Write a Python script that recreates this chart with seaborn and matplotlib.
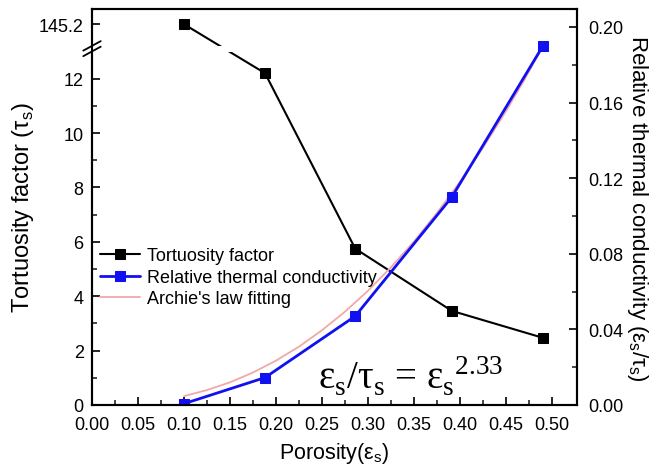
import numpy as np
import matplotlib
matplotlib.use("Agg")
import matplotlib.pyplot as plt
import seaborn as sns
from matplotlib.patches import Rectangle

sns.set_theme(style="white")
plt.rcParams['font.family'] = ['Liberation Sans', 'DejaVu Sans']
plt.rcParams['text.color'] = 'black'
plt.rcParams['axes.labelcolor'] = 'black'

# data
porosity = [0.100, 0.188, 0.286, 0.391, 0.490]
tortuosity = [145.2, 12.2, 5.75, 3.46, 2.47]
rel_cond = [0.0007, 0.0145, 0.047, 0.110, 0.190]

fit_x = [0.100, 0.125, 0.150, 0.175, 0.200, 0.225, 0.250, 0.275, 0.300,
         0.325, 0.350, 0.375, 0.400, 0.425, 0.450, 0.470, 0.490]
fit_y = [0.0047, 0.0079, 0.0120, 0.0172, 0.0235, 0.0309, 0.0396, 0.0494, 0.0605,
         0.0729, 0.0866, 0.1017, 0.1182, 0.1362, 0.1556, 0.1722, 0.1898]

# broken left axis: linear up to 13, then compressed
BRK = 13.0
K = 1.0 / (145.2 - BRK)


def fwd(y):
    y = np.asarray(y, dtype=float)
    return np.where(y <= BRK, y, BRK + (y - BRK) * K)


def inv(d):
    d = np.asarray(d, dtype=float)
    return np.where(d <= BRK, d, BRK + (d - BRK) / K)


fig = plt.figure(figsize=(6.58, 4.77), dpi=100)
ax = fig.add_subplot(111)
fig.subplots_adjust(left=92/658, right=577/658, bottom=1-406/477, top=1-10/477)
ax2 = ax.twinx()

sns.lineplot(x=porosity, y=tortuosity, ax=ax, color='black', marker='s',
             markersize=6.5, markeredgecolor='black', linewidth=1.5,
             label='Tortuosity factor', legend=False, zorder=2)
sns.lineplot(x=fit_x, y=fit_y, ax=ax2, color='#f2a8a8', linewidth=1.3,
             label="Archie's law fitting", legend=False, zorder=1)
sns.lineplot(x=porosity, y=rel_cond, ax=ax2, color='#1010f0', marker='s',
             markersize=6.5, markeredgecolor='#1010f0', linewidth=2,
             label='Relative thermal conductivity', legend=False, zorder=2)

ax.set_yscale('function', functions=(fwd, inv))
ax.set_ylim(0, float(inv(14.56)))
ax.set_xlim(0, 0.527)
ax2.set_ylim(0, 0.2095)

ax.set_xticks(np.arange(0, 0.51, 0.05))
ax.set_xticks(np.arange(0.025, 0.52, 0.05), minor=True)
ax.set_xticklabels([f"{v:.2f}" for v in np.arange(0, 0.51, 0.05)])
ax.set_yticks([0, 2, 4, 6, 8, 10, 12, 145.2])
ax.set_yticklabels(['0', '2', '4', '6', '8', '10', '12', '145.2'])
ax.set_yticks([1, 3, 5, 7, 9, 11], minor=True)
ax2.set_yticks(np.arange(0, 0.201, 0.04))
ax2.set_yticks(np.arange(0.02, 0.2, 0.04), minor=True)
ax2.set_yticklabels([f"{v:.2f}" for v in np.arange(0, 0.201, 0.04)])

for a in (ax, ax2):
    for s in a.spines.values():
        s.set_linewidth(1.5)
        s.set_color('black')
    a.tick_params(which='major', direction='in', length=6, width=1.2,
                  labelsize=13, colors='black', pad=6)
    a.tick_params(which='minor', direction='in', length=3.5, width=1.2)
ax.tick_params(which='both', bottom=True, left=True, right=False, top=False)
ax.tick_params(axis='x', pad=8)
ax2.tick_params(which='both', left=False, right=True, top=False, bottom=False)
ax2.tick_params(axis='y', pad=8)
ax.grid(False)
ax2.grid(False)

# axis break: gap in the curve and slashes on the left spine
yb = 13.0 / 14.56
ax.add_patch(Rectangle((0.18, yb - 0.002), 0.12, 0.016, transform=ax.transAxes,
                       facecolor='white', edgecolor='none', zorder=3))
for dy in (0.0, 0.014):
    ax.plot([-0.018, 0.018], [yb + dy - 0.012, yb + dy + 0.012],
            transform=ax.transAxes, color='black', lw=1.3, clip_on=False, zorder=5)
ax.add_patch(Rectangle((-0.01, yb - 0.004), 0.02, 0.022, transform=ax.transAxes,
                       facecolor='white', edgecolor='none', clip_on=False, zorder=4))

ax.set_xlabel('Porosity(ε$_\\mathregular{s}$)', fontsize=15.5, labelpad=5)
ax.set_ylabel('Tortuosity factor (τ$_\\mathregular{s}$)', fontsize=17, labelpad=2)
ax2.set_ylabel('Relative thermal conductivity (ε$_\\mathregular{s}$/τ$_\\mathregular{s}$)',
               fontsize=16, rotation=270, labelpad=19)

ax.text(0.465, 0.04, 'ε$_\\mathregular{s}$/τ$_\\mathregular{s}$ = ε$_\\mathregular{s}$$^\\mathregular{2.33}$',
        transform=ax.transAxes, fontsize=28, family='Liberation Serif', va='baseline')

h1, l1 = ax.get_legend_handles_labels()
h2, l2 = ax2.get_legend_handles_labels()
handles = h1 + h2[::-1]
labels = l1 + l2[::-1]
ax2.legend(handles, labels, loc='upper left', bbox_to_anchor=(-0.01, 0.43),
           frameon=False, fontsize=13, handlelength=2.2, handletextpad=0.4,
           labelspacing=0.25, borderaxespad=0.3, labelcolor='black')

fig.savefig('out.png', dpi=100)
